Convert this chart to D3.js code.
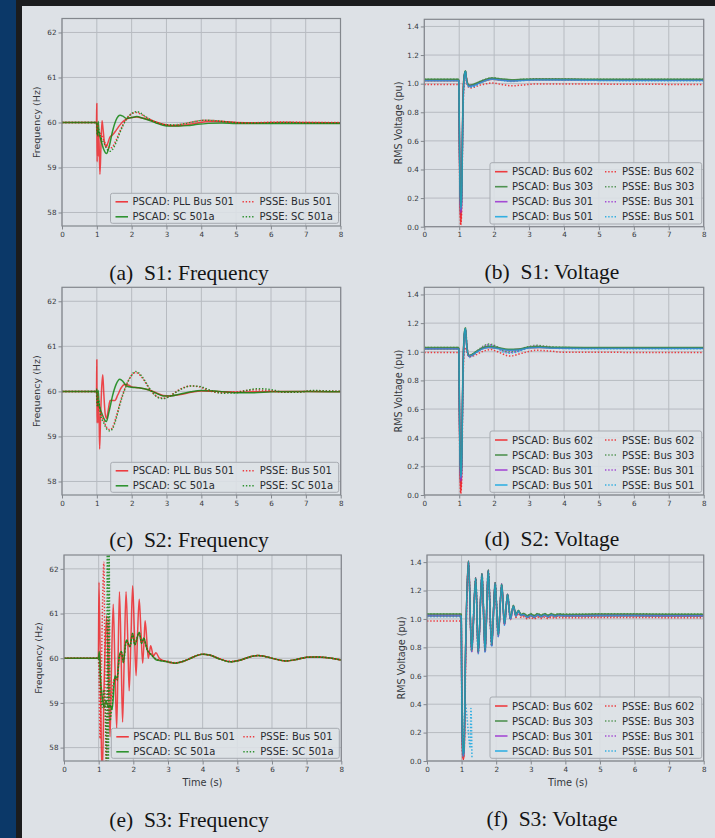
<!DOCTYPE html>
<html><head><meta charset="utf-8">
<script src="https://cdn.jsdelivr.net/npm/d3@7"></script>
<style>body{margin:0;background:#dde1e6;}svg{display:block}</style>
</head><body><svg id="c" width="715" height="838"></svg>
<script>
// ---------- tick labels / categories ----------
const xTicks = [0,1,2,3,4,5,6,7,8];
const freqTicks = [58,59,60,61,62];
const voltTicks = [0.0,0.2,0.4,0.6,0.8,1.0,1.2,1.4];
const freqLabels = ['PSCAD: PLL Bus 501','PSCAD: SC 501a','PSSE: Bus 501','PSSE: SC 501a'];
const voltLabels = ['PSCAD: Bus 602','PSCAD: Bus 303','PSCAD: Bus 301','PSCAD: Bus 501','PSSE: Bus 602','PSSE: Bus 303','PSSE: Bus 301','PSSE: Bus 501'];
const captions = ['(a)\u2002S1: Frequency','(b)\u2002S1: Voltage','(c)\u2002S2: Frequency','(d)\u2002S2: Voltage','(e)\u2002S3: Frequency','(f)\u2002S3: Voltage'];

// ---------- S1 frequency [time s, Hz] ----------
const s1FreqPscadPll = [[0,60],[0.99,60],[1.0,60.42],[1.005,59.55],[1.01,59.13],[1.02,59.95],[1.03,59.35],[1.04,59.75],[1.05,59.25],[1.06,59.7],[1.07,59.4],[1.09,58.85],[1.12,59.5],[1.15,60.04],[1.18,59.85],[1.22,59.55],[1.27,59.46],[1.32,59.55],[1.38,59.68],[1.45,59.72],[1.55,59.82],[1.65,59.93],[1.75,60.02],[1.87,60.08],[2.0,60.11],[2.15,60.12],[2.3,60.1],[2.5,60.06],[2.7,60.01],[2.9,59.96],[3.1,59.93],[3.35,59.93],[3.6,59.95],[3.9,59.99],[4.2,60.02],[4.6,60.02],[5.0,60.0],[5.5,59.99],[6.0,60.0],[7.0,60.0],[8.0,59.99]];
const s1FreqPscadSc = [[0,60],[0.99,60],[1.0,59.95],[1.02,59.72],[1.04,60.02],[1.06,59.8],[1.1,59.66],[1.15,59.52],[1.2,59.4],[1.28,59.31],[1.35,59.45],[1.45,59.8],[1.55,60.05],[1.67,60.16],[1.75,60.14],[1.85,60.09],[2.0,60.11],[2.15,60.13],[2.3,60.1],[2.5,60.05],[2.7,59.99],[2.9,59.94],[3.1,59.92],[3.35,59.92],[3.6,59.93],[3.9,59.96],[4.2,59.98],[4.6,59.99],[5.0,59.98],[6.0,59.98],[7.0,59.98],[8.0,59.98]];
const s1FreqPsseBus = [[0,60],[0.99,60],[1.0,59.8],[1.02,59.95],[1.05,59.7],[1.1,59.75],[1.2,59.6],[1.3,59.47],[1.38,59.43],[1.45,59.46],[1.55,59.6],[1.65,59.78],[1.75,59.95],[1.85,60.08],[1.95,60.17],[2.05,60.21],[2.15,60.22],[2.25,60.19],[2.4,60.12],[2.6,60.04],[2.8,59.98],[3.0,59.95],[3.2,59.94],[3.5,59.97],[3.8,60.02],[4.1,60.05],[4.4,60.04],[4.8,60.01],[5.2,59.99],[5.8,60.0],[6.4,60.01],[7.0,60.0],[8.0,60.0]];
const s1FreqPsseSc = [[0,60],[0.99,60],[1.0,59.9],[1.02,59.7],[1.05,59.85],[1.1,59.7],[1.2,59.55],[1.3,59.4],[1.38,59.36],[1.45,59.4],[1.55,59.55],[1.65,59.75],[1.75,59.93],[1.85,60.07],[1.95,60.16],[2.05,60.22],[2.15,60.24],[2.25,60.21],[2.4,60.13],[2.6,60.04],[2.8,59.98],[3.0,59.95],[3.2,59.95],[3.5,59.97],[3.8,60.02],[4.1,60.05],[4.4,60.04],[4.8,60.01],[5.2,59.99],[5.8,59.99],[6.4,60.0],[7.0,59.99],[8.0,59.99]];

// ---------- S2 frequency ----------
const s2FreqPscadPll = [[0,60],[0.99,60],[1.0,60.7],[1.005,59.6],[1.01,59.3],[1.02,59.9],[1.03,59.45],[1.04,59.75],[1.05,59.3],[1.06,59.65],[1.08,58.72],[1.11,59.5],[1.14,60.1],[1.17,60.37],[1.2,59.95],[1.24,59.5],[1.28,59.4],[1.33,59.6],[1.38,59.8],[1.45,59.8],[1.52,59.8],[1.6,59.92],[1.7,60.08],[1.8,60.15],[1.9,60.14],[2.0,60.1],[2.2,60.08],[2.5,60.03],[2.7,59.97],[2.9,59.91],[3.1,59.9],[3.4,59.93],[3.7,59.98],[4.0,60.01],[4.5,60.0],[5.0,59.98],[5.5,59.99],[6.0,60.0],[7.0,60.0],[8.0,59.99]];
const s2FreqPscadSc = [[0,60],[0.99,60],[1.0,60.05],[1.02,59.7],[1.04,60.02],[1.06,59.75],[1.1,59.6],[1.15,59.5],[1.2,59.4],[1.27,59.33],[1.35,59.55],[1.45,59.9],[1.55,60.15],[1.66,60.27],[1.75,60.22],[1.85,60.12],[2.0,60.09],[2.2,60.08],[2.5,60.03],[2.7,59.96],[2.9,59.9],[3.1,59.9],[3.4,59.94],[3.7,59.99],[4.0,60.02],[4.5,60.0],[5.0,59.97],[5.5,59.97],[6.0,59.99],[7.0,60.0],[8.0,59.99]];
const s2FreqPsseBus = [[0,60],[0.99,60],[1.0,59.75],[1.02,59.95],[1.05,59.6],[1.1,59.55],[1.2,59.35],[1.3,59.18],[1.38,59.15],[1.45,59.2],[1.55,59.42],[1.65,59.7],[1.75,59.95],[1.85,60.15],[1.95,60.3],[2.05,60.4],[2.12,60.42],[2.2,60.39],[2.35,60.25],[2.5,60.07],[2.65,59.93],[2.8,59.86],[2.92,59.85],[3.05,59.88],[3.25,59.98],[3.45,60.07],[3.7,60.12],[3.95,60.1],[4.2,60.02],[4.6,59.97],[5.0,59.99],[5.3,60.02],[5.6,60.03],[6.0,60.01],[6.4,59.98],[6.8,59.99],[7.2,60.01],[7.6,60.01],[8.0,60.0]];
const s2FreqPsseSc = [[0,60],[0.99,60],[1.0,59.85],[1.02,59.65],[1.05,59.8],[1.1,59.5],[1.2,59.3],[1.3,59.15],[1.38,59.12],[1.45,59.17],[1.55,59.38],[1.65,59.68],[1.75,59.93],[1.85,60.14],[1.95,60.3],[2.05,60.41],[2.12,60.44],[2.2,60.41],[2.35,60.27],[2.5,60.08],[2.65,59.93],[2.8,59.85],[2.92,59.84],[3.05,59.87],[3.25,59.97],[3.45,60.06],[3.7,60.12],[3.95,60.11],[4.2,60.04],[4.6,59.96],[5.0,59.97],[5.3,60.02],[5.6,60.06],[6.0,60.04],[6.4,59.98],[6.8,59.98],[7.2,60.02],[7.6,60.01],[8.0,60.0]];

// ---------- S3 frequency ----------
const s3FreqPscadPll = [[0,60],[0.99,60],[1.01,61.7],[1.06,59.0],[1.1,57.3],[1.16,59.5],[1.23,60.95],[1.28,59.6],[1.33,58.24],[1.37,59.8],[1.42,61.21],[1.47,59.8],[1.52,58.43],[1.56,60.0],[1.6,61.49],[1.65,60.0],[1.69,58.57],[1.74,60.1],[1.79,61.49],[1.84,60.4],[1.88,59.27],[1.93,60.4],[1.98,61.62],[2.03,60.6],[2.08,59.61],[2.12,60.5],[2.17,61.32],[2.22,60.6],[2.27,59.89],[2.31,60.4],[2.34,60.84],[2.39,60.4],[2.43,60.0],[2.47,60.15],[2.5,60.28],[2.58,60.05],[2.65,60.12],[2.75,60.0],[2.85,59.95],[2.95,59.93],[3.05,59.9],[3.2,59.89],[3.4,59.92],[3.6,59.98],[3.8,60.05],[4.0,60.09],[4.2,60.07],[4.5,59.98],[4.8,59.92],[5.1,59.96],[5.4,60.04],[5.6,60.06],[5.8,60.04],[6.1,59.98],[6.4,59.94],[6.7,59.97],[7.0,60.02],[7.3,60.03],[7.6,60.01],[8.0,59.96]];
const s3FreqPscadSc = [[0,60],[0.99,60],[1.02,60.15],[1.05,59.6],[1.1,59.15],[1.16,58.9],[1.21,59.05],[1.27,58.92],[1.33,58.95],[1.39,58.86],[1.47,59.6],[1.53,59.55],[1.6,60.07],[1.66,60.15],[1.71,59.9],[1.8,60.41],[1.9,60.26],[1.98,60.56],[2.04,60.3],[2.17,60.58],[2.24,60.33],[2.3,60.45],[2.4,60.19],[2.53,60.07],[2.67,59.96],[2.85,59.94],[3.0,59.92],[3.2,59.89],[3.4,59.92],[3.6,59.98],[3.8,60.05],[4.0,60.09],[4.2,60.07],[4.5,59.98],[4.8,59.92],[5.1,59.96],[5.4,60.04],[5.6,60.06],[5.8,60.04],[6.1,59.98],[6.4,59.94],[6.7,59.97],[7.0,60.02],[7.3,60.03],[7.6,60.01],[8.0,59.96]];
const s3FreqPsseBus = [[0,60],[0.99,60],[1.01,59.6],[1.04,58.2],[1.08,59.8],[1.12,61.5],[1.15,62.15],[1.19,59.0],[1.22,57.3],[1.26,59.5],[1.29,60.9],[1.32,59.3],[1.36,59.1],[1.41,59.4],[1.47,59.55],[1.53,59.5],[1.6,60.03],[1.66,60.12],[1.71,59.93],[1.8,60.38],[1.9,60.27],[1.98,60.52],[2.04,60.32],[2.17,60.55],[2.24,60.35],[2.3,60.43],[2.4,60.2],[2.53,60.08],[2.67,59.98],[2.85,59.95],[3.0,59.93],[3.2,59.9],[3.4,59.92],[3.6,59.98],[3.8,60.05],[4.0,60.09],[4.2,60.07],[4.5,59.99],[4.8,59.93],[5.1,59.96],[5.4,60.04],[5.6,60.06],[5.8,60.04],[6.1,59.98],[6.4,59.94],[6.7,59.97],[7.0,60.02],[7.3,60.03],[7.6,60.01],[8.0,59.96]];
const s3FreqPsseSc = [[0,60],[0.99,60],[1.02,59.9],[1.06,59.2],[1.1,58.9],[1.15,59.3],[1.2,58.6],[1.23,57.3],[1.25,62.6],[1.28,57.3],[1.3,62.6],[1.33,58.6],[1.38,58.9],[1.46,59.55],[1.53,59.5],[1.6,60.05],[1.66,60.13],[1.71,59.92],[1.8,60.4],[1.9,60.26],[1.98,60.55],[2.04,60.3],[2.17,60.57],[2.24,60.34],[2.3,60.44],[2.4,60.19],[2.53,60.07],[2.67,59.97],[2.85,59.94],[3.0,59.92],[3.2,59.89],[3.4,59.92],[3.6,59.98],[3.8,60.05],[4.0,60.09],[4.2,60.07],[4.5,59.98],[4.8,59.92],[5.1,59.96],[5.4,60.04],[5.6,60.06],[5.8,60.04],[6.1,59.98],[6.4,59.94],[6.7,59.97],[7.0,60.02],[7.3,60.03],[7.6,60.01],[8.0,59.96]];

// ---------- S1 voltage [time s, pu] ----------
const s1VoltP602 = [[0,1.02],[0.99,1.02],[1.0,0.7],[1.02,0.25],[1.04,0.02],[1.06,0.08],[1.07,0.25],[1.09,0.6],[1.12,1.0],[1.15,1.06],[1.18,1.075],[1.22,1.02],[1.28,0.985],[1.4,0.99],[1.55,1.005],[1.75,1.02],[1.95,1.03],[2.2,1.025],[2.5,1.02],[2.8,1.025],[3.2,1.028],[4.0,1.028],[5.0,1.026],[6.0,1.025],[7.0,1.024],[8.0,1.024]];
const s1VoltP303 = [[0,1.03],[0.99,1.03],[1.0,0.8],[1.02,0.35],[1.04,0.14],[1.06,0.14],[1.08,0.35],[1.1,0.75],[1.13,1.02],[1.15,1.07],[1.18,1.09],[1.21,1.03],[1.28,0.99],[1.4,0.995],[1.55,1.01],[1.75,1.03],[1.95,1.04],[2.2,1.033],[2.5,1.028],[2.8,1.03],[3.2,1.033],[4.0,1.033],[5.0,1.031],[6.0,1.03],[7.0,1.03],[8.0,1.03]];
const s1VoltP301 = [[0,1.025],[0.99,1.025],[1.0,0.78],[1.02,0.32],[1.04,0.1],[1.06,0.12],[1.08,0.33],[1.1,0.73],[1.13,1.01],[1.15,1.065],[1.18,1.085],[1.21,1.025],[1.28,0.985],[1.4,0.99],[1.55,1.005],[1.75,1.025],[1.95,1.035],[2.2,1.028],[2.5,1.022],[2.8,1.026],[3.2,1.029],[4.0,1.029],[5.0,1.027],[6.0,1.026],[7.0,1.026],[8.0,1.026]];
const s1VoltP501 = [[0,1.02],[0.99,1.02],[1.0,0.76],[1.02,0.3],[1.04,0.12],[1.06,0.15],[1.08,0.35],[1.1,0.72],[1.13,1.0],[1.15,1.06],[1.18,1.085],[1.21,1.02],[1.28,0.98],[1.4,0.985],[1.55,1.0],[1.75,1.02],[1.95,1.03],[2.2,1.024],[2.5,1.018],[2.8,1.022],[3.2,1.025],[4.0,1.025],[5.0,1.023],[6.0,1.022],[7.0,1.022],[8.0,1.022]];
const s1VoltS602 = [[0,0.995],[0.99,0.995],[1.0,0.65],[1.02,0.2],[1.04,0.01],[1.06,0.05],[1.08,0.25],[1.1,0.65],[1.13,0.95],[1.16,1.01],[1.19,1.02],[1.23,0.99],[1.3,0.97],[1.42,0.975],[1.6,0.99],[1.8,1.0],[1.95,1.005],[2.2,0.995],[2.5,0.985],[2.8,0.99],[3.2,0.998],[4.0,0.998],[5.0,0.997],[6.0,0.996],[7.0,0.995],[8.0,0.995]];
const s1VoltS303 = [[0,1.03],[0.99,1.03],[1.0,0.75],[1.02,0.3],[1.04,0.1],[1.06,0.15],[1.08,0.4],[1.1,0.8],[1.13,1.03],[1.16,1.08],[1.18,1.09],[1.22,1.02],[1.3,0.985],[1.42,0.99],[1.6,1.015],[1.8,1.035],[1.95,1.042],[2.2,1.032],[2.5,1.024],[2.8,1.03],[3.2,1.035],[4.0,1.033],[5.0,1.03],[6.0,1.03],[7.0,1.03],[8.0,1.03]];
const s1VoltS301 = [[0,1.025],[0.99,1.025],[1.0,0.73],[1.02,0.28],[1.04,0.08],[1.06,0.13],[1.08,0.38],[1.1,0.78],[1.13,1.02],[1.16,1.075],[1.18,1.085],[1.22,1.015],[1.3,0.98],[1.42,0.985],[1.6,1.01],[1.8,1.03],[1.95,1.037],[2.2,1.027],[2.5,1.019],[2.8,1.025],[3.2,1.03],[4.0,1.028],[5.0,1.026],[6.0,1.025],[7.0,1.025],[8.0,1.025]];
const s1VoltS501 = [[0,1.02],[0.99,1.02],[1.0,0.72],[1.02,0.27],[1.04,0.09],[1.06,0.14],[1.08,0.38],[1.1,0.77],[1.13,1.01],[1.16,1.07],[1.18,1.08],[1.22,1.01],[1.3,0.975],[1.42,0.98],[1.6,1.005],[1.8,1.025],[1.95,1.033],[2.2,1.023],[2.5,1.015],[2.8,1.021],[3.2,1.026],[4.0,1.024],[5.0,1.022],[6.0,1.021],[7.0,1.021],[8.0,1.021]];

// ---------- S2 voltage ----------
const s2VoltP602 = [[0,1.02],[0.99,1.02],[1.0,0.7],[1.02,0.25],[1.04,0.02],[1.06,0.08],[1.07,0.2],[1.09,0.6],[1.12,1.0],[1.15,1.12],[1.18,1.15],[1.21,1.05],[1.27,0.97],[1.35,0.975],[1.5,1.0],[1.65,1.02],[1.85,1.03],[2.1,1.025],[2.4,1.012],[2.7,1.015],[3.0,1.028],[3.3,1.03],[3.7,1.027],[4.0,1.026],[5.0,1.025],[6.0,1.025],[7.0,1.024],[8.0,1.024]];
const s2VoltP303 = [[0,1.03],[0.99,1.03],[1.0,0.8],[1.02,0.35],[1.04,0.14],[1.06,0.14],[1.08,0.35],[1.1,0.75],[1.13,1.05],[1.15,1.14],[1.18,1.165],[1.21,1.06],[1.27,0.975],[1.35,0.98],[1.5,1.005],[1.65,1.025],[1.85,1.038],[2.1,1.03],[2.4,1.018],[2.7,1.02],[3.0,1.033],[3.3,1.036],[3.7,1.032],[4.0,1.031],[5.0,1.03],[6.0,1.03],[7.0,1.03],[8.0,1.03]];
const s2VoltP301 = [[0,1.025],[0.99,1.025],[1.0,0.78],[1.02,0.32],[1.04,0.1],[1.06,0.12],[1.08,0.33],[1.1,0.73],[1.13,1.04],[1.15,1.13],[1.18,1.16],[1.21,1.055],[1.27,0.972],[1.35,0.977],[1.5,1.0],[1.65,1.02],[1.85,1.033],[2.1,1.026],[2.4,1.013],[2.7,1.016],[3.0,1.029],[3.3,1.032],[3.7,1.028],[4.0,1.027],[5.0,1.026],[6.0,1.026],[7.0,1.025],[8.0,1.025]];
const s2VoltP501 = [[0,1.02],[0.99,1.02],[1.0,0.76],[1.02,0.3],[1.04,0.12],[1.06,0.15],[1.08,0.35],[1.1,0.72],[1.13,1.03],[1.15,1.13],[1.18,1.16],[1.21,1.05],[1.27,0.97],[1.35,0.975],[1.5,0.998],[1.65,1.018],[1.85,1.03],[2.1,1.023],[2.4,1.01],[2.7,1.013],[3.0,1.026],[3.3,1.029],[3.7,1.025],[4.0,1.024],[5.0,1.023],[6.0,1.022],[7.0,1.022],[8.0,1.022]];
const s2VoltS602 = [[0,0.995],[0.99,0.995],[1.0,0.65],[1.02,0.2],[1.04,0.01],[1.06,0.05],[1.08,0.2],[1.1,0.62],[1.13,0.95],[1.16,1.02],[1.19,1.03],[1.23,0.99],[1.3,0.965],[1.45,0.975],[1.65,1.0],[1.9,1.015],[2.1,1.0],[2.45,0.97],[2.8,0.99],[3.2,1.01],[3.6,1.005],[4.0,0.996],[5.0,0.997],[6.0,0.995],[7.0,0.994],[8.0,0.994]];
const s2VoltS303 = [[0,1.03],[0.99,1.03],[1.0,0.75],[1.02,0.3],[1.04,0.1],[1.06,0.15],[1.08,0.4],[1.1,0.8],[1.13,1.07],[1.16,1.15],[1.18,1.165],[1.22,1.05],[1.29,0.97],[1.4,0.985],[1.55,1.015],[1.7,1.04],[1.85,1.055],[2.05,1.04],[2.25,1.01],[2.45,1.0],[2.65,1.008],[2.9,1.03],[3.2,1.045],[3.5,1.038],[4.0,1.03],[5.0,1.027],[6.0,1.027],[7.0,1.027],[8.0,1.027]];
const s2VoltS301 = [[0,1.025],[0.99,1.025],[1.0,0.73],[1.02,0.28],[1.04,0.08],[1.06,0.13],[1.08,0.38],[1.1,0.78],[1.13,1.06],[1.16,1.14],[1.18,1.16],[1.22,1.045],[1.29,0.965],[1.4,0.98],[1.55,1.01],[1.7,1.035],[1.85,1.05],[2.05,1.035],[2.25,1.006],[2.45,0.995],[2.65,1.003],[2.9,1.025],[3.2,1.04],[3.5,1.033],[4.0,1.026],[5.0,1.024],[6.0,1.024],[7.0,1.024],[8.0,1.024]];
const s2VoltS501 = [[0,1.02],[0.99,1.02],[1.0,0.72],[1.02,0.27],[1.04,0.09],[1.06,0.14],[1.08,0.38],[1.1,0.77],[1.13,1.05],[1.16,1.13],[1.18,1.155],[1.22,1.04],[1.29,0.96],[1.4,0.975],[1.55,1.005],[1.7,1.03],[1.85,1.045],[2.05,1.03],[2.25,1.0],[2.45,0.99],[2.65,0.998],[2.9,1.02],[3.2,1.036],[3.5,1.03],[4.0,1.022],[5.0,1.021],[6.0,1.021],[7.0,1.021],[8.0,1.021]];

// ---------- S3 voltage ----------
const s3VoltP602 = [[0,1.02],[0.99,1.02],[1.01,0.25],[1.04,0.01],[1.06,0.02],[1.08,0.1],[1.11,0.68],[1.2,1.4],[1.29,0.775],[1.41,1.28],[1.48,0.765],[1.59,1.31],[1.68,0.775],[1.77,1.335],[1.87,0.815],[1.97,1.245],[2.06,0.885],[2.16,1.235],[2.24,0.965],[2.33,1.165],[2.41,1.0],[2.5,1.085],[2.57,1.02],[2.64,1.05],[2.72,1.022],[2.8,1.027],[2.9,1.01],[3.0,1.022],[3.1,1.01],[3.2,1.024],[3.3,1.013],[3.4,1.024],[3.5,1.013],[3.6,1.024],[3.7,1.015],[3.8,1.022],[4.0,1.018],[5.0,1.02],[6.0,1.02],[7.0,1.018],[8.0,1.018]];
const s3VoltP303 = [[0,1.035],[0.99,1.035],[1.01,0.35],[1.04,0.05],[1.07,0.08],[1.11,0.72],[1.2,1.41],[1.29,0.78],[1.41,1.29],[1.48,0.77],[1.59,1.32],[1.68,0.78],[1.77,1.345],[1.87,0.82],[1.97,1.255],[2.06,0.89],[2.16,1.245],[2.24,0.97],[2.33,1.175],[2.41,1.01],[2.5,1.095],[2.57,1.03],[2.64,1.06],[2.72,1.033],[2.8,1.038],[2.9,1.022],[3.0,1.035],[3.1,1.024],[3.2,1.037],[3.3,1.026],[3.4,1.037],[3.5,1.026],[3.6,1.037],[3.7,1.028],[3.8,1.035],[4.0,1.032],[5.0,1.034],[6.0,1.034],[7.0,1.033],[8.0,1.033]];
const s3VoltP301 = [[0,1.028],[0.99,1.028],[1.01,0.32],[1.04,0.04],[1.07,0.07],[1.11,0.7],[1.2,1.41],[1.29,0.77],[1.41,1.29],[1.48,0.76],[1.59,1.32],[1.68,0.77],[1.77,1.345],[1.87,0.81],[1.97,1.255],[2.06,0.88],[2.16,1.245],[2.24,0.96],[2.33,1.175],[2.41,1.0],[2.5,1.092],[2.57,1.024],[2.64,1.057],[2.72,1.028],[2.8,1.033],[2.9,1.016],[3.0,1.029],[3.1,1.017],[3.2,1.031],[3.3,1.02],[3.4,1.031],[3.5,1.02],[3.6,1.031],[3.7,1.022],[3.8,1.029],[4.0,1.026],[5.0,1.028],[6.0,1.028],[7.0,1.026],[8.0,1.026]];
const s3VoltP501 = [[0,1.02],[0.99,1.02],[1.01,0.3],[1.04,0.03],[1.07,0.06],[1.11,0.7],[1.2,1.405],[1.29,0.77],[1.41,1.285],[1.48,0.76],[1.59,1.315],[1.68,0.77],[1.77,1.34],[1.87,0.81],[1.97,1.25],[2.06,0.88],[2.16,1.24],[2.24,0.96],[2.33,1.17],[2.41,1.0],[2.5,1.09],[2.57,1.02],[2.64,1.055],[2.72,1.025],[2.8,1.03],[2.9,1.012],[3.0,1.025],[3.1,1.012],[3.2,1.027],[3.3,1.015],[3.4,1.027],[3.5,1.015],[3.6,1.027],[3.7,1.017],[3.8,1.025],[4.0,1.02],[5.0,1.022],[6.0,1.022],[7.0,1.02],[8.0,1.02]];
const s3VoltS602 = [[0,0.985],[0.99,0.985],[1.01,0.2],[1.04,0.01],[1.06,0.03],[1.09,0.2],[1.12,0.72],[1.2,1.39],[1.29,0.77],[1.41,1.275],[1.48,0.76],[1.59,1.3],[1.68,0.77],[1.77,1.33],[1.87,0.81],[1.97,1.24],[2.06,0.88],[2.16,1.23],[2.24,0.96],[2.33,1.16],[2.41,0.995],[2.5,1.08],[2.57,1.01],[2.64,1.04],[2.72,1.01],[2.8,1.015],[2.9,1.0],[3.0,1.01],[3.1,1.0],[3.2,1.012],[3.3,1.003],[3.4,1.012],[3.5,1.003],[3.6,1.012],[3.7,1.005],[3.8,1.01],[4.0,1.008],[5.0,1.01],[6.0,1.01],[7.0,1.009],[8.0,1.009]];
const s3VoltS303 = [[0,1.035],[0.99,1.035],[1.01,0.3],[1.04,0.04],[1.07,0.1],[1.12,0.78],[1.2,1.405],[1.29,0.775],[1.41,1.29],[1.48,0.765],[1.59,1.32],[1.68,0.775],[1.77,1.345],[1.87,0.815],[1.97,1.255],[2.06,0.885],[2.16,1.245],[2.24,0.965],[2.33,1.175],[2.41,1.005],[2.5,1.095],[2.57,1.028],[2.64,1.06],[2.72,1.032],[2.8,1.04],[2.9,1.024],[3.0,1.038],[3.1,1.025],[3.2,1.039],[3.3,1.027],[3.4,1.039],[3.5,1.027],[3.6,1.039],[3.7,1.029],[3.8,1.037],[4.0,1.034],[5.0,1.036],[6.0,1.036],[7.0,1.035],[8.0,1.035]];
const s3VoltS301 = [[0,1.025],[0.99,1.025],[1.01,0.28],[1.04,0.03],[1.07,0.09],[1.12,0.76],[1.2,1.405],[1.29,0.77],[1.41,1.29],[1.48,0.76],[1.59,1.32],[1.68,0.77],[1.77,1.345],[1.87,0.81],[1.97,1.255],[2.06,0.88],[2.16,1.245],[2.24,0.96],[2.33,1.175],[2.41,1.0],[2.5,1.09],[2.57,1.022],[2.64,1.055],[2.72,1.026],[2.8,1.032],[2.9,1.015],[3.0,1.028],[3.1,1.016],[3.2,1.03],[3.3,1.019],[3.4,1.03],[3.5,1.019],[3.6,1.03],[3.7,1.021],[3.8,1.028],[4.0,1.025],[5.0,1.027],[6.0,1.027],[7.0,1.025],[8.0,1.025]];
const s3VoltS501 = [[0,1.015],[0.99,1.015],[1.01,0.33],[1.04,0.05],[1.07,0.22],[1.1,0.42],[1.16,0.3],[1.22,0.14],[1.25,0.09],[1.27,0.37],[1.3,0.02],[1.305,null],[1.31,0.8],[1.41,1.285],[1.48,0.755],[1.59,1.315],[1.68,0.765],[1.77,1.34],[1.87,0.805],[1.97,1.25],[2.06,0.875],[2.16,1.24],[2.24,0.955],[2.33,1.17],[2.41,0.995],[2.5,1.088],[2.57,1.018],[2.64,1.052],[2.72,1.022],[2.8,1.028],[2.9,1.01],[3.0,1.023],[3.1,1.01],[3.2,1.025],[3.3,1.013],[3.4,1.025],[3.5,1.013],[3.6,1.025],[3.7,1.015],[3.8,1.023],[4.0,1.018],[5.0,1.02],[6.0,1.02],[7.0,1.018],[8.0,1.018]];

// ---------- styling ----------
const BG = '#dde1e6', GRID = '#b7bbc1', FRAME = '#83878d', TXT = '#35383c';
const RED = '#f01e22', GREEN = '#118511', VGREEN = '#3f8a40', PURPLE = '#9a2fd0', CYAN = '#14a6e0';
const freqStyle = [{c:RED,o:0.8,d:false},{c:GREEN,o:0.85,d:false},{c:RED,o:0.85,d:true},{c:GREEN,o:0.85,d:true}];
const voltStyle = [{c:RED,o:0.8,d:false},{c:VGREEN,o:0.9,d:false},{c:PURPLE,o:0.8,d:false},{c:CYAN,o:0.7,d:false},
                   {c:RED,o:0.85,d:true},{c:VGREEN,o:0.85,d:true},{c:PURPLE,o:0.85,d:true},{c:CYAN,o:0.85,d:true}];
const freqOrder = [0,1,2,3];
const voltOrder = [4,6,7,5,0,2,1,3];

const svg = d3.select('#c');
svg.append('rect').attr('width',715).attr('height',838).attr('fill','#0b3868');
svg.append('rect').attr('x',16).attr('width',699).attr('height',838).attr('fill','#1b1c1e');
svg.append('rect').attr('x',22).attr('y',6).attr('width',693).attr('height',832).attr('fill',BG);

const freqLegend = {w:228, h:30, r0:8.5, dy:15, c2:132, nrows:2};
const voltLegend = {w:211.7, h:61.3, r0:9, dy:15, c2:115, nrows:4};

const panels = [
 {key:'a', l:62, r:340.5, t:18.5, b:226, type:'f', data:[s1FreqPscadPll,s1FreqPscadSc,s1FreqPsseBus,s1FreqPsseSc], cap:captions[0], cx:189, cy:279.5},
 {key:'b', l:424.3, r:703.7, t:19.3, b:226.7, type:'v', data:[s1VoltP602,s1VoltP303,s1VoltP301,s1VoltP501,s1VoltS602,s1VoltS303,s1VoltS301,s1VoltS501], cap:captions[1], cx:552, cy:278.8},
 {key:'c', l:62, r:340.7, t:287.3, b:495, type:'f', data:[s2FreqPscadPll,s2FreqPscadSc,s2FreqPsseBus,s2FreqPsseSc], cap:captions[2], cx:189, cy:546.5},
 {key:'d', l:424.3, r:703.7, t:287.3, b:495, type:'v', data:[s2VoltP602,s2VoltP303,s2VoltP301,s2VoltP501,s2VoltS602,s2VoltS303,s2VoltS301,s2VoltS501], cap:captions[3], cx:552, cy:545.8},
 {key:'e', l:64, r:341.3, t:555, b:761, type:'f', data:[s3FreqPscadPll,s3FreqPscadSc,s3FreqPsseBus,s3FreqPsseSc], cap:captions[4], cx:189, cy:826.7, xlab:true, xlabX:202.5},
 {key:'f', l:427, r:703.7, t:555, b:761, type:'v', data:[s3VoltP602,s3VoltP303,s3VoltP301,s3VoltP501,s3VoltS602,s3VoltS303,s3VoltS301,s3VoltS501], cap:captions[5], cx:552, cy:826.2, xlab:true, xlabX:568}
];

const defs = svg.append('defs');

panels.forEach(p => {
  const isF = p.type === 'f';
  const ticks = isF ? freqTicks : voltTicks;
  const x = d3.scaleLinear().domain([0,8]).range([p.l, p.r]);
  const y = d3.scaleLinear().domain(isF ? [57.7, 62.31] : [0, 1.45]).range([p.b, p.t]);
  const g = svg.append('g');
  defs.append('clipPath').attr('id','clip'+p.key).append('rect')
    .attr('x',p.l).attr('y',p.t).attr('width',p.r-p.l).attr('height',p.b-p.t);
  // grid
  g.append('g').selectAll('line').data(xTicks).join('line')
    .attr('x1',d=>x(d)).attr('x2',d=>x(d)).attr('y1',p.t).attr('y2',p.b)
    .attr('stroke',GRID).attr('stroke-width',1);
  g.append('g').selectAll('line').data(ticks).join('line')
    .attr('y1',d=>y(d)).attr('y2',d=>y(d)).attr('x1',p.l).attr('x2',p.r)
    .attr('stroke',GRID).attr('stroke-width',1);
  // series
  const styles = isF ? freqStyle : voltStyle;
  const order = isF ? freqOrder : voltOrder;
  const line = d3.line().defined(d => d[1] !== null).x(d => x(d[0])).y(d => y(d[1])).curve(d3.curveMonotoneX);
  const lg = g.append('g').attr('clip-path','url(#clip'+p.key+')');
  order.forEach(i => {
    const s = styles[i];
    lg.append('path').attr('d', line(p.data[i])).attr('fill','none')
      .attr('stroke', s.c).attr('stroke-opacity', s.o).attr('stroke-width', 1.5)
      .attr('stroke-linejoin','round')
      .attr('stroke-dasharray', s.d ? '1.4,1.8' : null);
  });
  // frame
  g.append('rect').attr('x',p.l).attr('y',p.t).attr('width',p.r-p.l).attr('height',p.b-p.t)
    .attr('fill','none').attr('stroke',FRAME).attr('stroke-width',1.2);
  // axes
  const ax = g.append('g').attr('transform',`translate(0,${p.b})`)
    .call(d3.axisBottom(x).tickValues(xTicks).tickSize(3.5).tickPadding(2).tickFormat(d3.format('d')));
  const ay = g.append('g').attr('transform',`translate(${p.l},0)`)
    .call(d3.axisLeft(y).tickValues(ticks).tickSize(3.5).tickPadding(2).tickFormat(isF ? d3.format('d') : d3.format('.1f')));
  [ax, ay].forEach(a => {
    a.select('.domain').remove();
    a.selectAll('line').attr('stroke', FRAME).attr('stroke-width',1);
    a.selectAll('text').attr('font-family','DejaVu Sans').attr('font-size',7.2).attr('fill',TXT);
  });
  // y label
  g.append('text')
    .attr('transform',`translate(${p.l-22.5},${(p.t+p.b)/2}) rotate(-90)`)
    .attr('text-anchor','middle').attr('font-family','DejaVu Sans').attr('font-size', isF ? 9.5 : 9.6)
    .attr('fill',TXT).text(isF ? 'Frequency (Hz)' : 'RMS Voltage (pu)');
  if (p.xlab) {
    g.append('text').attr('x',p.xlabX).attr('y',p.b+24.5).attr('text-anchor','middle')
      .attr('font-family','DejaVu Sans').attr('font-size',9.8).attr('fill',TXT).text('Time (s)');
  }
  // legend
  const L = isF ? freqLegend : voltLegend;
  const labels = isF ? freqLabels : voltLabels;
  const bx = p.r - 2 - L.w, by = p.b - 2.7 - L.h;
  const leg = g.append('g');
  leg.append('rect').attr('x',bx).attr('y',by).attr('width',L.w).attr('height',L.h).attr('rx',2)
    .attr('fill',BG).attr('fill-opacity',0.88).attr('stroke','#a7abb1').attr('stroke-width',1);
  labels.forEach((lab,i) => {
    const s = styles[i];
    const col = Math.floor(i / L.nrows), row = i % L.nrows;
    const lx = bx + (col ? L.c2 : 5), ly = by + L.r0 + row * L.dy;
    leg.append('line').attr('x1',lx).attr('x2',lx+12.5).attr('y1',ly).attr('y2',ly)
      .attr('stroke',s.c).attr('stroke-opacity',Math.max(s.o,0.85)).attr('stroke-width',1.6)
      .attr('stroke-dasharray', s.d ? '1.4,1.8' : null);
    leg.append('text').attr('x',lx+17).attr('y',ly+3.6).attr('font-family','DejaVu Sans')
      .attr('font-size',10).attr('fill','#2a2c30').text(lab);
  });
  // caption
  svg.append('text').attr('x',p.cx).attr('y',p.cy).attr('text-anchor','middle')
    .attr('font-family','Liberation Serif').attr('font-size',21.5).attr('fill','#141414').text(p.cap);
});
</script></body></html>
